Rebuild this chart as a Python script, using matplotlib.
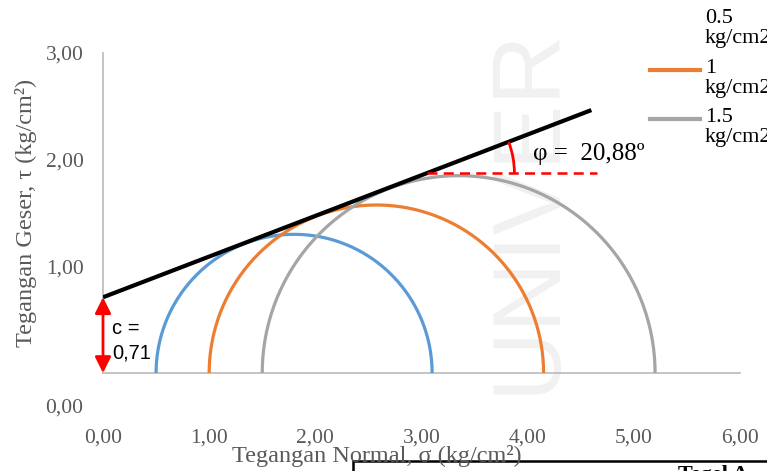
import numpy as np
import matplotlib
matplotlib.use("Agg")
import matplotlib.pyplot as plt
from matplotlib.patches import Arc, Rectangle
from matplotlib.lines import Line2D

# data
labels = ["0.5\nkg/cm2", "1\nkg/cm2", "1.5\nkg/cm2"]
sigma3 = [0.50, 1.00, 1.50]
sigma1 = [3.10, 4.15, 5.20]
colors = ["#5B9BD5", "#ED7D31", "#A5A5A5"]
c_val = 0.71
phi_deg = 20.88
env_x = [0.0, 4.6]
phi_line_x = [3.05, 4.65]
x_ticks = [0, 1, 2, 3, 4, 5, 6]
x_ticklabels = ["0,00", "1,00", "2,00", "3,00", "4,00", "5,00", "6,00"]
y_ticks = [0, 1, 2, 3]
y_ticklabels = ["", "1,00", "2,00", "3,00"]

plt.rcParams["font.family"] = ["Liberation Serif", "DejaVu Serif"]
gray_txt = "#595959"

fig = plt.figure(figsize=(7.67, 4.71), dpi=100)
ax = fig.add_axes([103 / 767, 98 / 471, 637 / 767, 320 / 471])

# faint watermark
fig.text(528 / 767, 1 - 210 / 471, "UNIVER", rotation=90, fontsize=70,
         family="Liberation Sans", color="#f1f1f1",
         ha="center", va="center", zorder=-10)

# Mohr circles
t = np.linspace(0, np.pi, 300)
for s3, s1, col in zip(sigma3, sigma1, colors):
    cen = (s1 + s3) / 2
    rad = (s1 - s3) / 2
    ax.plot(cen + rad * np.cos(t), rad * np.sin(t), color=col, lw=2.3,
            solid_capstyle="butt", zorder=3)

# failure envelope
tanphi = np.tan(np.radians(phi_deg))
ex = np.array(env_x)
ax.plot(ex, c_val + tanphi * ex, color="black", lw=3, zorder=4,
        solid_capstyle="butt")

# horizontal reference line and angle arc
yh = c_val + tanphi * phi_line_x[0]
ax.plot(phi_line_x, [yh, yh], color="red", lw=1.8, ls=(0, (4, 2.5)), zorder=4)
ax.add_patch(Arc((phi_line_x[0], yh), 1.65, 1.65 * 106.2 / 106.7, theta1=0,
                 theta2=phi_deg, color="red", lw=2, zorder=4))
ax.text(4.05, yh + 0.18, "φ =  20,88º", fontsize=18, ha="left", va="center",
        color="black")

# cohesion arrow
ax.annotate("", xy=(0, 0), xytext=(0, c_val),
            arrowprops=dict(arrowstyle="<|-|>", color="red", lw=2,
                            mutation_scale=24, shrinkA=0, shrinkB=0), zorder=5)
ax.text(0.085, 0.30, "c =\n0,71", fontsize=14.5, family="Liberation Sans",
        ha="left", va="center", linespacing=1.35)

ax.set_xlim(0, 6)
ax.set_ylim(0, 3)
ax.set_xticks(x_ticks)
ax.set_xticklabels(x_ticklabels)
ax.set_yticks(y_ticks)
ax.set_yticklabels(y_ticklabels)
ax.tick_params(axis="both", length=0, labelsize=15.5, labelcolor=gray_txt)
ax.tick_params(axis="x", pad=40)
ax.tick_params(axis="y", pad=14)
ax.annotate("0,00", xy=(0, 0), xycoords="data", xytext=(-14, -25),
            textcoords="offset points", ha="right", va="center",
            fontsize=15.5, color=gray_txt)

for s in ["top", "right"]:
    ax.spines[s].set_visible(False)
for s in ["left", "bottom"]:
    ax.spines[s].set_color("#BFBFBF")
    ax.spines[s].set_linewidth(1.3)
ax.set_facecolor("none")

ax.set_ylabel("Tegangan Geser, τ (kg/cm²)", fontsize=17.5, color=gray_txt,
              labelpad=6)
fig.text(232 / 767, 1 - 456 / 471, "Tegangan Normal, σ (kg/cm²)",
         fontsize=17.5, color=gray_txt, ha="left", va="center")

# legend, drawn by hand (handle aligned with first text line)
leg_y = [20, 70, 119]
for lab, col, yy in zip(labels, colors, leg_y):
    yf = 1 - yy / 471
    if lab.startswith("0.5"):
        col = "none"
    fig.add_artist(Line2D([650 / 767, 700 / 767], [yf, yf], color=col, lw=3,
                          transform=fig.transFigure))
    fig.text(705 / 767, yf + 11 / 471, lab, fontsize=16, ha="left", va="top",
             linespacing=1.1)

# box overlapping the bottom edge
fig.add_artist(Rectangle((353 / 767, -0.05), 0.6, (471 - 461) / 471 + 0.05,
                         transform=fig.transFigure, facecolor="none",
                         edgecolor="black", lw=1.8))
fig.text(678 / 767, 1 - 465 / 471, "Tegel A", fontsize=16, fontweight="bold",
         ha="left", va="top")

fig.savefig("out.png", dpi=100)
